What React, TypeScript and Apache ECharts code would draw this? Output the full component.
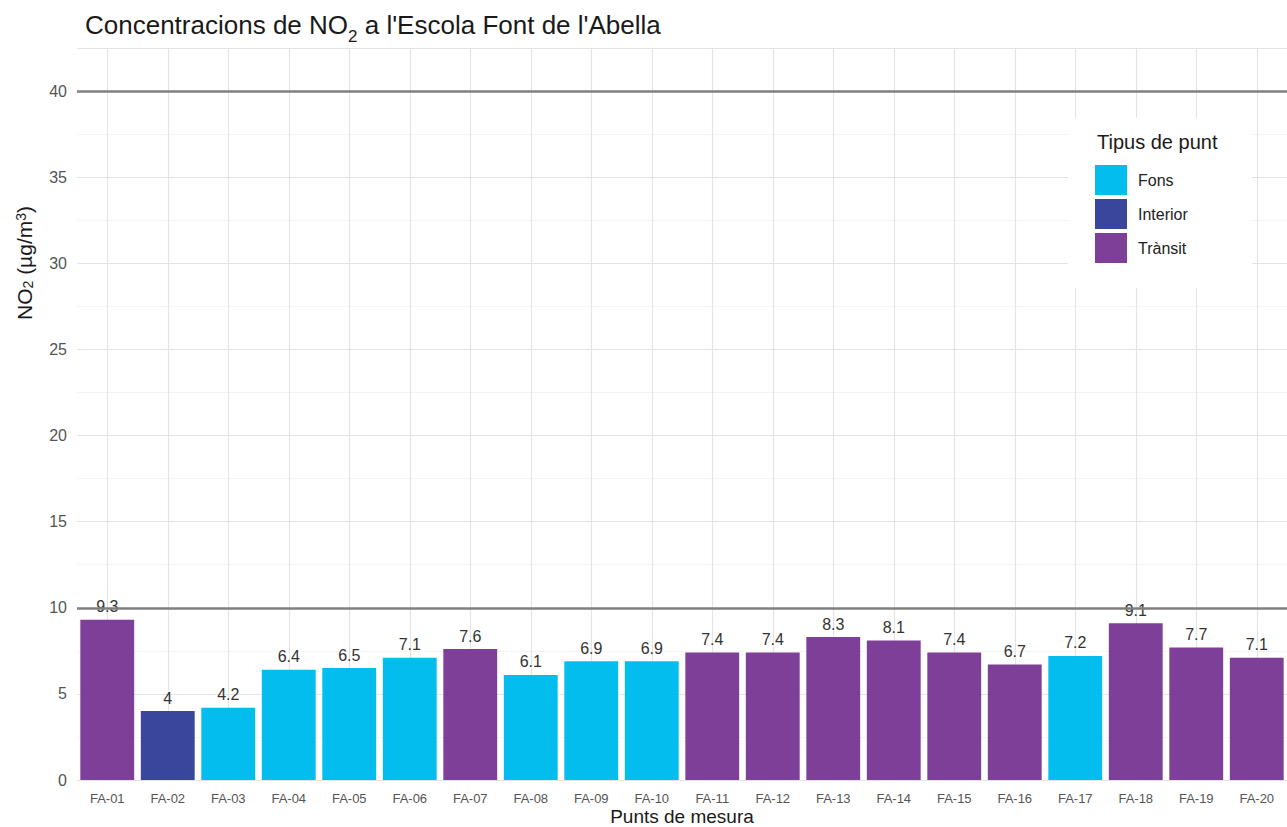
import React, { useEffect, useRef } from "react";
import * as echarts from "echarts";

const categories = [
  "FA-01", "FA-02", "FA-03", "FA-04", "FA-05", "FA-06", "FA-07", "FA-08", "FA-09", "FA-10",
  "FA-11", "FA-12", "FA-13", "FA-14", "FA-15", "FA-16", "FA-17", "FA-18", "FA-19", "FA-20",
];
const values = [9.3, 4, 4.2, 6.4, 6.5, 7.1, 7.6, 6.1, 6.9, 6.9, 7.4, 7.4, 8.3, 8.1, 7.4, 6.7, 7.2, 9.1, 7.7, 7.1];
const pointTypes = [
  "Trànsit", "Interior", "Fons", "Fons", "Fons", "Fons", "Trànsit", "Fons", "Fons", "Fons",
  "Trànsit", "Trànsit", "Trànsit", "Trànsit", "Trànsit", "Trànsit", "Fons", "Trànsit", "Trànsit", "Trànsit",
];
const typeNames = ["Fons", "Interior", "Trànsit"];
const typeColors = ["#03BDEE", "#38469B", "#7E3F98"];
const limitLines = [10, 40];

const FONT = "'Liberation Sans', Arial, Helvetica, sans-serif";

export default function App() {
  const ref = useRef<HTMLDivElement>(null);

  useEffect(() => {
    document.body.style.margin = "0";
    if (!ref.current) return;
    const chart = echarts.init(ref.current, null, { renderer: "svg" });

    const series: any[] = typeNames.map((name, k) => ({
      name,
      type: "bar",
      stack: "total",
      barCategoryGap: "11%",
      z: 2,
      itemStyle: { color: typeColors[k] },
      label: {
        show: true,
        position: "top",
        distance: 5,
        fontSize: 16,
        fontFamily: FONT,
        color: "#333333",
      },
      data: values.map((v, i) => (pointTypes[i] === name ? v : "-")),
      ...(k === 0
        ? {
            markLine: {
              silent: true,
              symbol: "none",
              label: { show: false },
              lineStyle: { color: "#7f7f7f", width: 2.5, type: "solid" },
              data: limitLines.map((y) => ({ yAxis: y })),
            },
          }
        : {}),
    }));

    chart.setOption({
      animation: false,
      backgroundColor: "#ffffff",
      textStyle: { fontFamily: FONT },
      title: {
        left: 85,
        top: 19,
        padding: 0,
        text: "{n|Concentracions de NO}{sub|2}{n| a l'Escola Font de l'Abella}",
        textStyle: {
          fontFamily: FONT,
          fontWeight: "normal",
          rich: {
            n: { fontSize: 26, lineHeight: 26, fontWeight: "normal", color: "#1a1a1a", padding: [0, 0, 7, 0], verticalAlign: "bottom", fontFamily: FONT },
            sub: { fontSize: 17, lineHeight: 17, fontWeight: "normal", color: "#1a1a1a", verticalAlign: "bottom", fontFamily: FONT },
          },
        },
      },
      legend: {
        data: typeNames,
        orient: "vertical",
        left: 1095,
        top: 165,
        padding: 0,
        itemWidth: 32,
        itemHeight: 30,
        itemGap: 4,
        icon: "rect",
        z: 10,
        selectedMode: false,
        textStyle: { fontSize: 16, color: "#222222", fontFamily: FONT, padding: [0, 0, 0, 6] },
      },
      graphic: [
        {
          type: "rect",
          z: 3,
          shape: { x: 1068, y: 118, width: 184, height: 170 },
          style: { fill: "#ffffff" },
          silent: true,
        },
        {
          type: "text",
          z: 10,
          x: 1097,
          y: 142,
          style: {
            text: "Tipus de punt",
            font: `20px ${FONT}`,
            fill: "#1a1a1a",
            textAlign: "left",
            textVerticalAlign: "middle",
            align: "left",
            verticalAlign: "middle",
          },
        },
        {
          type: "text",
          z: 10,
          x: 24,
          y: 263,
          rotation: Math.PI / 2,
          style: {
            text: "{n|NO}{sub|2}{n| (µg/m}{sup|3}{n|)}",
            textAlign: "center",
            textVerticalAlign: "middle",
            align: "center",
            verticalAlign: "middle",
            rich: {
              n: { fontSize: 21, lineHeight: 21, fill: "#1a1a1a", padding: [5, 0, 5, 0], verticalAlign: "middle", fontFamily: FONT },
              sub: { fontSize: 14, lineHeight: 14, fill: "#1a1a1a", verticalAlign: "bottom", fontFamily: FONT },
              sup: { fontSize: 14, lineHeight: 14, fill: "#1a1a1a", verticalAlign: "top", fontFamily: FONT },
            },
          },
        },
      ],
      grid: { left: 77, right: 0, top: 48, bottom: 47, containLabel: false, outerBoundsMode: "none" } as any,
      xAxis: {
        type: "category",
        data: categories,
        name: "Punts de mesura",
        nameLocation: "middle",
        nameGap: 27,
        nameMoveOverlap: false,
        nameTextStyle: { fontSize: 19, lineHeight: 19, color: "#1a1a1a", fontFamily: FONT },
        axisLine: { show: false },
        axisTick: { show: false },
        axisLabel: { fontSize: 13, lineHeight: 13, color: "#555555", margin: 12, fontFamily: FONT, interval: 0 },
        splitLine: { show: true, alignWithLabel: true, lineStyle: { color: "#e4e4e4", width: 1.2 } },
      } as any,
      yAxis: {
        type: "value",
        min: 0,
        max: 42.5,
        interval: 5,
        axisLine: { show: false },
        axisTick: { show: false },
        axisLabel: { fontSize: 16, color: "#555555", margin: 10, fontFamily: FONT, showMaxLabel: false },
        splitLine: { show: true, lineStyle: { color: "#e4e4e4", width: 1.2 } },
        minorTick: { show: false, splitNumber: 2 },
        minorSplitLine: { show: true, lineStyle: { color: "#f1f1f1", width: 0.8 } },
      },
      series,
    });

    return () => chart.dispose();
  }, []);

  return <div ref={ref} style={{ width: 1287, height: 827 }} />;
}
